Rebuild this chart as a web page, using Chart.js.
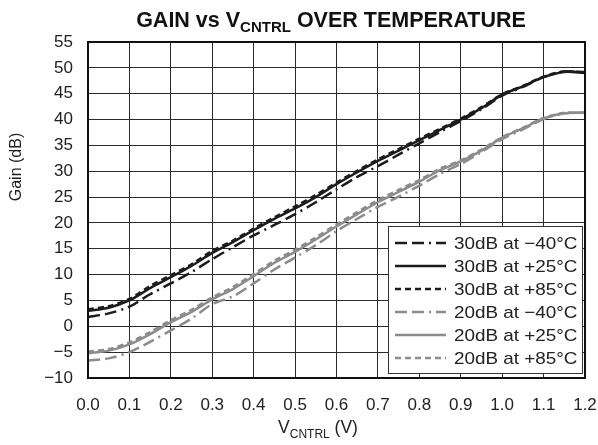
<!DOCTYPE html>
<html>
<head>
<meta charset="utf-8">
<script src="https://cdn.jsdelivr.net/npm/chart.js@4.4.0/dist/chart.umd.min.js"></script>
<style>
  html, body { margin: 0; padding: 0; background: #fff; }
  #wrap { width: 598px; height: 445px; position: relative; }
</style>
</head>
<body>
<div id="wrap"><canvas id="c" width="598" height="445"></canvas></div>
<script>
// ---- Data ----
const vcntrl = [0, 0.05, 0.1, 0.15, 0.2, 0.25, 0.3, 0.35, 0.4, 0.45, 0.5, 0.55, 0.6, 0.65, 0.7, 0.75, 0.8, 0.85, 0.9, 0.95, 1.0, 1.05, 1.1, 1.15, 1.2];
const gain30_m40 = [1.8, 2.5, 3.8, 6.2, 8.3, 10.5, 13.0, 15.3, 17.6, 19.6, 21.7, 24.0, 26.5, 28.9, 31.0, 33.2, 35.4, 37.6, 39.7, 42.0, 44.6, 46.3, 48.2, 49.3, 49.2];
const gain30_p25 = [3.0, 3.6, 5.0, 7.4, 9.5, 11.7, 14.2, 16.3, 18.6, 20.8, 22.8, 25.0, 27.5, 29.8, 32.0, 34.0, 36.0, 38.0, 40.0, 42.2, 44.8, 46.4, 48.2, 49.2, 49.0];
const gain30_p85 = [3.3, 3.9, 5.3, 7.8, 9.9, 12.0, 14.6, 16.6, 18.9, 21.1, 23.2, 25.4, 27.8, 30.1, 32.3, 34.3, 36.3, 38.2, 40.2, 42.4, 44.9, 46.5, 48.3, 49.3, 49.1];
const gain20_m40 = [-6.6, -6.2, -5.0, -3.0, -0.8, 1.5, 4.3, 5.8, 8.3, 11.0, 13.3, 15.7, 18.4, 20.8, 23.1, 25.1, 27.2, 29.5, 31.4, 33.7, 36.2, 38.1, 40.1, 41.2, 41.3];
const gain20_p25 = [-5.2, -4.7, -3.5, -1.5, 0.8, 2.8, 5.2, 7.2, 9.7, 12.3, 14.4, 16.8, 19.3, 21.7, 24.0, 26.0, 28.0, 30.2, 31.9, 34.0, 36.5, 38.3, 40.2, 41.2, 41.3];
const gain20_p85 = [-4.9, -4.4, -3.1, -1.1, 1.2, 3.2, 5.6, 7.6, 10.1, 12.7, 14.8, 17.2, 19.7, 22.1, 24.4, 26.4, 28.3, 30.5, 32.1, 34.2, 36.6, 38.4, 40.3, 41.3, 41.3];
const seriesLabels = ["30dB at \u221240\u00B0C", "30dB at +25\u00B0C", "30dB at +85\u00B0C", "20dB at \u221240\u00B0C", "20dB at +25\u00B0C", "20dB at +85\u00B0C"];
const yMin = -10, yMax = 55, yStep = 5;
const xMin = 0, xMax = 1.2, xStep = 0.1;

const BLACK = '#1c1c1c';
const GRAY = '#8c8c8c';
const FONT = '"Liberation Sans", Arial, Helvetica, sans-serif';
const DASH_M40 = [12, 5, 12, 5, 2, 5];
const DASH_P85 = [6, 4];

function pts(ys) { return vcntrl.map((x, i) => ({ x: x, y: ys[i] })); }

const styles = [
  { color: BLACK, dash: DASH_M40 },
  { color: BLACK, dash: [] },
  { color: BLACK, dash: DASH_P85 },
  { color: GRAY, dash: DASH_M40 },
  { color: GRAY, dash: [] },
  { color: GRAY, dash: DASH_P85 }
];
const allSeries = [gain30_m40, gain30_p25, gain30_p85, gain20_m40, gain20_p25, gain20_p85];

const datasets = allSeries.map((s, i) => ({
  label: seriesLabels[i],
  data: pts(s),
  borderColor: styles[i].color,
  borderDash: styles[i].dash,
  borderWidth: 2.5,
  pointRadius: 0,
  tension: 0.3,
  fill: false
}));

const decor = {
  id: 'decor',
  afterDraw(chart) {
    const ctx = chart.ctx;
    const a = chart.chartArea;
    ctx.save();
    // frame
    ctx.strokeStyle = '#111';
    ctx.lineWidth = 2;
    ctx.setLineDash([]);
    ctx.strokeRect(a.left, a.top, a.right - a.left, a.bottom - a.top);

    // y axis title
    ctx.save();
    ctx.font = '16px ' + FONT;
    ctx.fillStyle = '#1e1e1e';
    ctx.textAlign = 'center';
    ctx.textBaseline = 'middle';
    ctx.translate(17, 167);
    ctx.rotate(-Math.PI / 2);
    ctx.fillText('Gain (dB)', 0, 0);
    ctx.restore();

    // title
    ctx.fillStyle = '#111';
    ctx.textBaseline = 'alphabetic';
    ctx.textAlign = 'left';
    drawParts(ctx, [
      { t: 'GAIN vs V', f: 'bold 21.5px ' + FONT, dy: 0 },
      { t: 'CNTRL', f: 'bold 15px ' + FONT, dy: 5 },
      { t: ' OVER TEMPERATURE', f: 'bold 21.5px ' + FONT, dy: 0 }
    ], 331, 27);

    // x axis title
    ctx.fillStyle = '#222';
    drawParts(ctx, [
      { t: 'V', f: '17.5px ' + FONT, dy: 0 },
      { t: 'CNTRL', f: '12px ' + FONT, dy: 5 },
      { t: ' (V)', f: '17.5px ' + FONT, dy: 0 }
    ], 318, 433);

    // legend box
    const lx = 388, ly = 226, lw = 194, lh = 147;
    ctx.fillStyle = '#fff';
    ctx.fillRect(lx, ly, lw, lh);
    ctx.strokeStyle = '#333';
    ctx.lineWidth = 1;
    ctx.strokeRect(lx + 0.5, ly + 0.5, lw, lh);
    chart.data.datasets.forEach((ds, i) => {
      const y = ly + 17 + i * 23;
      ctx.beginPath();
      ctx.strokeStyle = ds.borderColor;
      ctx.lineWidth = 2.5;
      ctx.setLineDash(ds.borderDash || []);
      ctx.moveTo(395, y);
      ctx.lineTo(446, y);
      ctx.stroke();
      ctx.setLineDash([]);
      ctx.save();
      ctx.translate(454, y + 1);
      ctx.scale(1.11, 1);
      ctx.font = '17px ' + FONT;
      ctx.textBaseline = 'middle';
      ctx.textAlign = 'left';
      ctx.fillStyle = '#222';
      ctx.fillText(ds.label, 0, 0);
      ctx.restore();
    });
    ctx.restore();
  }
};

function drawParts(ctx, parts, cx, baseY) {
  let total = 0;
  parts.forEach(p => { ctx.font = p.f; p.w = ctx.measureText(p.t).width; total += p.w; });
  let x = cx - total / 2;
  parts.forEach(p => { ctx.font = p.f; ctx.fillText(p.t, x, baseY + p.dy); x += p.w; });
}

new Chart(document.getElementById('c'), {
  type: 'line',
  data: { datasets: datasets },
  options: {
    responsive: false,
    animation: false,
    events: [],
    layout: { padding: { top: 42, right: 13, left: 0, bottom: 0 } },
    plugins: { legend: { display: false }, title: { display: false }, tooltip: { enabled: false } },
    scales: {
      x: {
        type: 'linear',
        min: xMin, max: xMax,
        afterFit(s) { s.height = 67; s.paddingLeft = 0; s.paddingRight = 0; },
        grid: { color: '#2a2a2a', lineWidth: 1, drawTicks: false },
        border: { display: false },
        ticks: {
          stepSize: xStep,
          padding: 17,
          color: '#222',
          font: { family: FONT, size: 17 },
          maxRotation: 0,
          callback: v => (Math.round(v * 10) / 10).toFixed(1)
        }
      },
      y: {
        type: 'linear',
        min: yMin, max: yMax,
        afterFit(s) { s.width = 88; s.paddingTop = 0; s.paddingBottom = 0; },
        grid: { color: '#2a2a2a', lineWidth: 1, drawTicks: false },
        border: { display: false },
        ticks: {
          stepSize: yStep,
          padding: 15,
          color: '#222',
          font: { family: FONT, size: 17 },
          callback: v => (v < 0 ? '\u2212' + Math.abs(v) : String(v))
        }
      }
    }
  },
  plugins: [decor]
});
</script>
</body>
</html>
